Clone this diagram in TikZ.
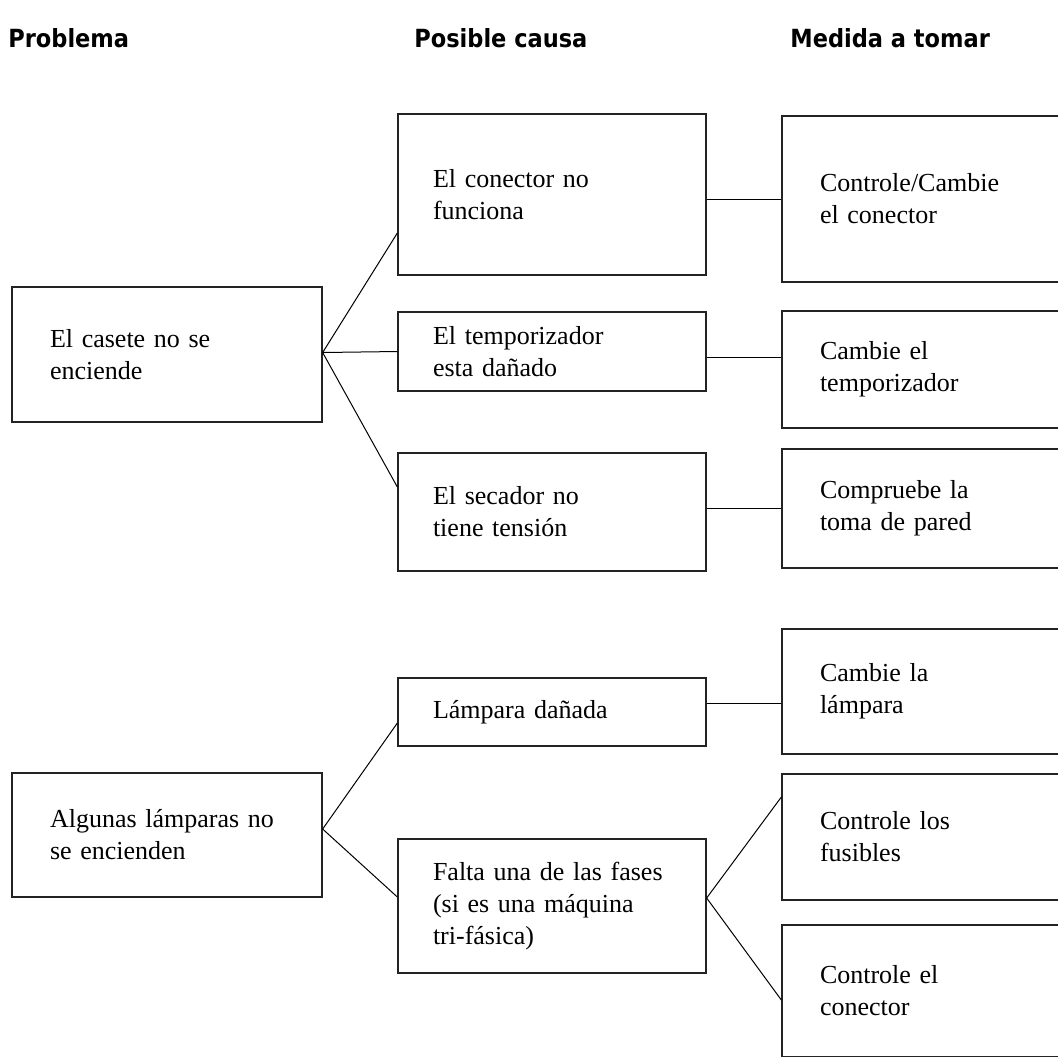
\documentclass[tikz,border=0pt]{standalone}
\usepackage{fontspec}
\setmainfont{Liberation Serif}
\newfontfamily\headfont{DejaVu Sans Condensed}
\usepackage{tikz}
\usetikzlibrary{positioning,calc}
\definecolor{boxgray}{RGB}{35,35,35}

\begin{document}
\begin{tikzpicture}[
  x=0.5pt,y=-0.5pt,
  box/.style={rectangle,draw=boxgray,line width=0.65pt,align=left,inner ysep=0pt,font=\fontsize{13}{16}\selectfont},
  prob/.style={box,minimum width=155pt,text width=117pt,inner xsep=19pt},
  cause/.style={box,minimum width=154pt,text width=119pt,inner xsep=17.5pt},
  fix/.style={box,minimum width=159pt,text width=121pt,inner xsep=19pt},
  head/.style={anchor=west,inner sep=0pt,font=\headfont\bfseries\fontsize{12.5}{14}\selectfont},
  link/.style={line width=0.5pt,black}
]
\useasboundingbox (0,0) rectangle (1058,1056);
\clip (0,0) rectangle (1058,1056);
\node[head] (hprob) at (8,38) {Problema};
\node[head] (hcause) at (414,38) {Posible causa};
\node[head] (hfix) at (790,38) {Medida a tomar};
\node[prob,minimum height=67.5pt] (p1) at (167,354.5) {El casete no se\\enciende};
\node[prob,minimum height=62pt] (p2) at (167,835) {Algunas lámparas no\\se encienden};
\node[cause,minimum height=80.5pt] (c1) at (552,194.5) {El conector no\\funciona};
\node[cause,minimum height=39.5pt] (c2) at (552,351.5) {El temporizador\\esta dañado};
\node[cause,minimum height=59pt] (c3) at (552,512) {El secador no\\tiene tensión};
\node[cause,minimum height=34pt] (c4) at (552,712) {Lámpara dañada};
\node[cause,minimum height=67pt] (c5) at (552,906) {Falta una de las fases\\(si es una máquina\\tri-fásica)};
\node[fix,minimum height=83pt] (m1) at (941,199) {Controle/Cambie\\el conector};
\node[fix,minimum height=58.5pt] (m2) at (941,369.5) {Cambie el\\temporizador};
\node[fix,minimum height=59.5pt] (m3) at (941,508.5) {Compruebe la\\toma de pared};
\node[fix,minimum height=62.5pt] (m4) at (941,691.5) {Cambie la\\lámpara};
\node[fix,minimum height=63pt] (m5) at (941,837) {Controle los\\fusibles};
\node[fix,minimum height=66pt] (m6) at (941,991) {Controle el\\conector};
\draw[link] ([yshift=1pt]p1.east) -- ([yshift=-19.25pt]c1.west);
\draw[link] ([yshift=1pt]p1.east) -- (c2.west);
\draw[link] ([yshift=1pt]p1.east) -- ([yshift=12.5pt]c3.west);
\draw[link] ([yshift=3pt]p2.east) -- ([yshift=-5.5pt]c4.west);
\draw[link] ([yshift=3pt]p2.east) -- ([yshift=4.5pt]c5.west);
\draw[link] (m1.west -| c1.east) -- (m1.west);
\draw[link] ([yshift=-3pt]c2.east) -- ([yshift=6pt]m2.west);
\draw[link] (m3.west -| c3.east) -- (m3.west);
\draw[link] ([yshift=4.5pt]c4.east) -- ([yshift=-5.75pt]m4.west);
\draw[link] ([yshift=4pt]c5.east) -- ([yshift=20pt]m5.west);
\draw[link] ([yshift=4pt]c5.east) -- ([yshift=-4.5pt]m6.west);
\end{tikzpicture}
\end{document}
